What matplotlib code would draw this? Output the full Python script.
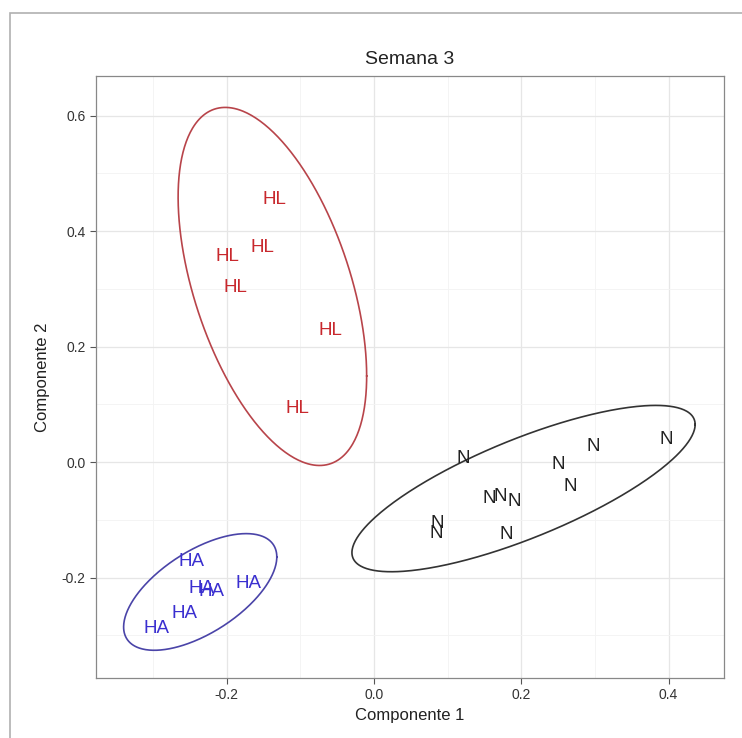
import numpy as np
import matplotlib
matplotlib.use("Agg")
import matplotlib.pyplot as plt
from matplotlib.patches import Rectangle

plt.rcParams['font.family'] = ['Liberation Sans', 'DejaVu Sans']

# puntos (componente 1, componente 2) por grupo
hl_x = [-0.135, -0.152, -0.199, -0.188, -0.059, -0.104]
hl_y = [0.454, 0.372, 0.355, 0.303, 0.227, 0.093]
ha_x = [-0.248, -0.234, -0.220, -0.171, -0.258, -0.295]
ha_y = [-0.173, -0.219, -0.225, -0.210, -0.262, -0.288]
n_x = [0.121, 0.250, 0.298, 0.397, 0.267, 0.157, 0.171, 0.191, 0.086, 0.085, 0.179]
n_y = [0.006, -0.004, 0.027, 0.039, -0.043, -0.063, -0.060, -0.069, -0.106, -0.124, -0.125]

# elipses: centro, semi-extension en x / y, correlacion
elip_centro = {'HL': (-0.138, 0.304), 'HA': (-0.236, -0.225), 'N': (0.203, -0.046)}
elip_ext = {'HL': (0.128, 0.310), 'HA': (0.104, 0.101), 'N': (0.233, 0.144)}
elip_rho = {'HL': -0.50, 'HA': 0.60, 'N': 0.77}

grupos = [
    ('HL', hl_x, hl_y, '#c8282d', '#b8444a'),
    ('HA', ha_x, ha_y, '#3a2fd0', '#4a44a8'),
    ('N', n_x, n_y, '#222222', '#333333'),
]

fig = plt.figure(figsize=(7.42, 7.38), dpi=100)
ax = fig.add_axes([96 / 742, 1 - 678 / 738, 628 / 742, 602 / 738])

t = np.linspace(0, 2 * np.pi, 400)
for nombre, xs, ys, col_txt, col_el in grupos:
    for x, y in zip(xs, ys):
        ax.text(x, y, nombre, color=col_txt, fontsize=13.5, ha='center', va='center', zorder=3)
    cx, cy = elip_centro[nombre]
    a, b = elip_ext[nombre]
    r = elip_rho[nombre]
    ex = cx + a * np.cos(t)
    ey = cy + b * (r * np.cos(t) + np.sqrt(1 - r ** 2) * np.sin(t))
    ax.plot(ex, ey, color=col_el, lw=1.2, zorder=2)

ax.set_xlim(-0.3775, 0.4752)
ax.set_ylim(-0.374, 0.6684)
ax.set_xticks([-0.2, 0.0, 0.2, 0.4])
ax.set_xticklabels(['-0.2', '0.0', '0.2', '0.4'])
ax.set_yticks([-0.2, 0.0, 0.2, 0.4, 0.6])
ax.set_yticklabels(['-0.2', '0.0', '0.2', '0.4', '0.6'])
ax.set_xticks([-0.3, -0.1, 0.1, 0.3], minor=True)
ax.set_yticks([-0.3, -0.1, 0.1, 0.3, 0.5], minor=True)
ax.grid(which='major', color='#e6e6e6', lw=0.9)
ax.grid(which='minor', color='#f3f3f3', lw=0.6)
ax.set_axisbelow(True)
ax.tick_params(which='major', length=4, color='#555555', labelsize=10, labelcolor='#333333')
ax.tick_params(which='minor', length=0)
for s in ax.spines.values():
    s.set_color('#888888')
    s.set_linewidth(0.9)

ax.set_xlabel('Componente 1', fontsize=12, color='#222222', labelpad=4)
ax.set_ylabel('Componente 2', fontsize=12, color='#222222', labelpad=8)
ax.set_title('Semana 3', fontsize=14, color='#222222', pad=9)

# marco de la captura
fig.patches.append(Rectangle((10 / 742, -0.1), 1.2, 1 - 13 / 738 + 0.1, transform=fig.transFigure,
                             fill=False, edgecolor='#b0b0b0', lw=1.2))

fig.savefig('out.png', dpi=100)
